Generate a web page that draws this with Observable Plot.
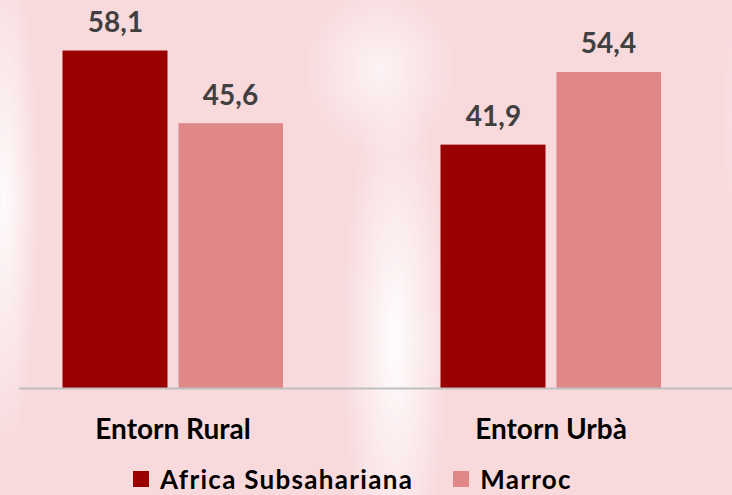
<!DOCTYPE html>
<html>
<head>
<meta charset="utf-8">
<script src="https://cdn.jsdelivr.net/npm/d3@7"></script>
<script src="https://cdn.jsdelivr.net/npm/@observablehq/plot@0.6"></script>
<style>
  html, body { margin: 0; padding: 0; }
  body {
    width: 732px; height: 495px; overflow: hidden;
    background:
      radial-gradient(ellipse 55px 260px at 395px 340px, rgba(255,255,255,0.95), rgba(255,255,255,0) 100%),
      radial-gradient(ellipse 80px 90px at 380px 70px, rgba(255,255,255,0.7), rgba(255,255,255,0) 100%),
      radial-gradient(ellipse 35px 260px at 5px 200px, rgba(255,255,255,0.9), rgba(255,255,255,0) 100%),
      radial-gradient(ellipse 40px 160px at 760px 120px, rgba(255,255,255,0.6), rgba(255,255,255,0) 100%),
      #f8d9dc;
    font-family: Lato, "Open Sans", sans-serif;
  }
  #chart svg { display: block; background: transparent; }
  #legend { height: 45px; position: relative; }
  #legend .lg-swatches { position: absolute; left: 133px; top: 12px; margin: 0; font: bold 26px/30px Lato, sans-serif; letter-spacing: 1.3px; color: #000; display: flex; align-items: center; }
  #legend .lg-swatch { margin-right: 40px; display: inline-flex; align-items: center; }
  #legend .lg-swatch svg { margin-right: 11px; }
</style>
</head>
<body>
<div id="chart"></div>
<div id="legend"></div>
<script>
const categories = ["Entorn Rural", "Entorn Urbà"];
const series = ["Africa Subsahariana", "Marroc"];
const africa = [58.1, 41.9];
const marroc = [45.6, 54.4];
const colors = ["#990000", "#e08788"];
const labelsAfrica = ["58,1", "41,9"];
const labelsMarroc = ["45,6", "54,4"];

const dataA = categories.map((c, i) => ({category: c, series: series[0], value: africa[i], label: labelsAfrica[i]}));
const dataM = categories.map((c, i) => ({category: c, series: series[1], value: marroc[i], label: labelsMarroc[i]}));

const plot = Plot.plot({
  width: 732,
  height: 450,
  marginTop: 0,
  marginLeft: 19,
  marginRight: 0,
  marginBottom: 62,
  style: {background: "transparent", fontFamily: "Lato, sans-serif"},
  x: {domain: categories, paddingInner: 0.357, paddingOuter: 0.1215, align: 0.343, label: null},
  y: {domain: [0, 66.8], axis: null},
  color: {domain: series, range: colors},
  marks: [
    Plot.barY(dataA, {x: "category", y: "value", fill: "series", insetLeft: 11.5, insetRight: 126.5}),
    Plot.barY(dataM, {x: "category", y: "value", fill: "series", insetLeft: 127.5, insetRight: 11}),
    Plot.ruleY([0], {stroke: "#bfbfbf", strokeWidth: 2}),
    Plot.text(dataA, {x: "category", y: "value", text: "label", dx: -57.5, dy: -28, fill: "#404040", fontSize: 28, fontWeight: "bold"}),
    Plot.text(dataM, {x: "category", y: "value", text: "label", dx: 57.5, dy: -28, fill: "#404040", fontSize: 28, fontWeight: "bold"}),
    Plot.axisX({tickSize: 0, tickPadding: 31, fontSize: 28, fontWeight: "bold", fill: "#000", label: null, style: {letterSpacing: "0.5px"}})
  ]
});
document.getElementById("chart").appendChild(plot);

const legend = Plot.legend({color: {domain: series, range: colors}, swatchSize: 16, className: "lg"});
document.getElementById("legend").appendChild(legend);
</script>
</body>
</html>
